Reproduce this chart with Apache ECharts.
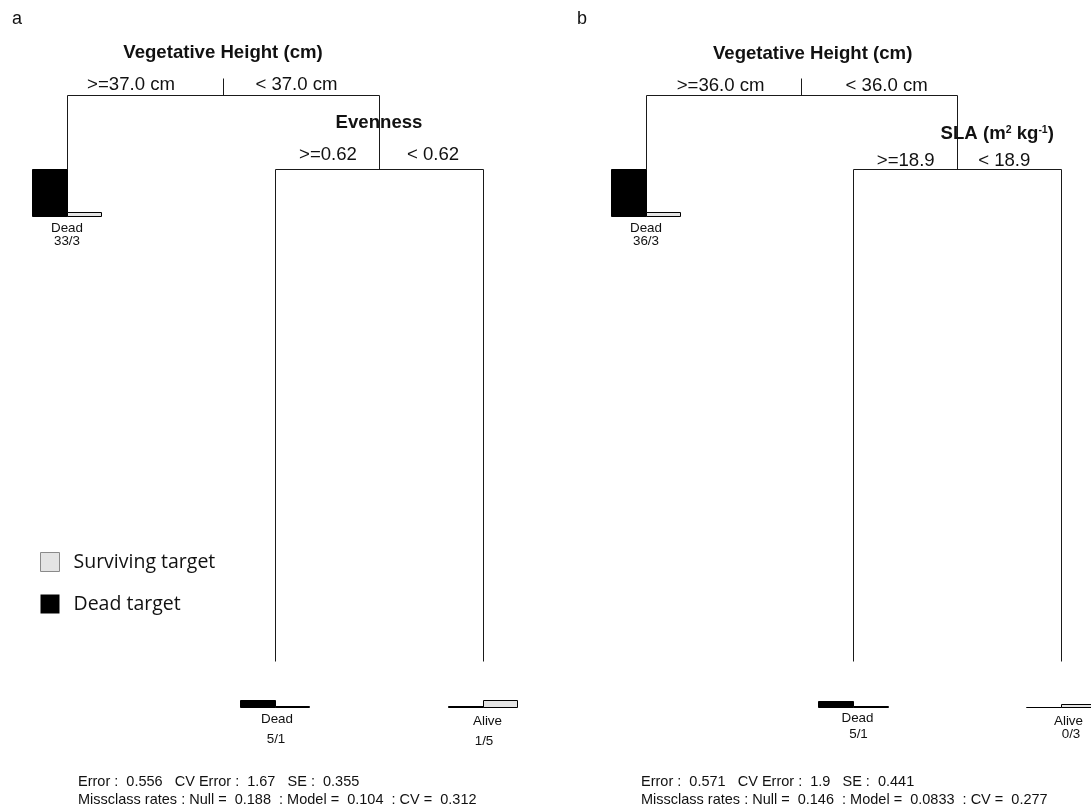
<!DOCTYPE html>
<html>
<head>
<meta charset="utf-8">
<script src="https://cdn.jsdelivr.net/npm/echarts@6/dist/echarts.min.js"></script>
<style>
  html, body { margin: 0; padding: 0; background: #fff; }
  #chart { width: 1091px; height: 809px; }
</style>
</head>
<body>
<div id="chart"></div>
<script>
// ---- Tree a: survival of targets split on vegetative height, then evenness ----
const splitVarsA   = ['Vegetative Height (cm)', 'Evenness'];
const splitLeftA   = ['>=37.0 cm', '>=0.62'];
const splitRightA  = ['< 37.0 cm', '< 0.62'];
const splitHeightA = [1.0, 0.868];          // node height (relative deviance)
const childrenA    = [['L0', 'S1'], ['L1', 'L2']];
const leafClassA   = ['Dead', 'Dead', 'Alive'];
const leafDeadA    = [33, 5, 1];
const leafAliveA   = [3, 1, 5];
const leafHeightA  = [0.868, 0, 0];
const statsA       = ['0.556', '1.67', '0.355', '0.188', '0.104', '0.312'];

// ---- Tree b: survival of targets split on vegetative height, then SLA ----
const splitVarsB   = ['Vegetative Height (cm)', 'SLA (m{sup|2} kg{sup|-1})'];
const splitLeftB   = ['>=36.0 cm', '>=18.9'];
const splitRightB  = ['< 36.0 cm', '< 18.9'];
const splitHeightB = [1.0, 0.868];
const childrenB    = [['L0', 'S1'], ['L1', 'L2']];
const leafClassB   = ['Dead', 'Dead', 'Alive'];
const leafDeadB    = [36, 5, 0];
const leafAliveB   = [3, 1, 3];
const leafHeightB  = [0.868, 0, 0];
const statsB       = ['0.571', '1.9', '0.441', '0.146', '0.0833', '0.277'];

const panelLetters = ['a', 'b'];
const legendNames  = ['Surviving target', 'Dead target'];

// ---- drawing constants ----
const FONT = '"Liberation Sans", Arial, sans-serif';
const LINE_COLOR = '#1a1a1a';
const TEXT_COLOR = '#111';
const ALIVE_FILL = '#e4e4e4';
const DEAD_FILL = '#000';
const LEAF_BAR_SPAN = 0.083;   // y units used by the tallest leaf bar
const BAR_W = 1 / 6;           // x units per bar
const ROOT_STUB = 17;          // px, tick above the root split

// label placement (px offsets from the node / leaf baseline)
const splitTextA = [
  { name: [0, -42], left: [-92, -10], right: [73.5, -10] },
  { name: [0, -47], left: [-51, -15], right: [54, -15] }
];
const splitTextB = [
  { name: [11, -41], left: [-81, -9], right: [85, -9] },
  { name: [40, -36], left: [-51.5, -9], right: [47, -9] }
];
const leafTextA = [
  { cls: [0, 12], n: [0, 25] }, { cls: [2, 11], n: [1, 31] }, { cls: [4.5, 13], n: [1, 33] }
];
const leafTextB = [
  { cls: [0, 12], n: [0, 25] }, { cls: [4, 10], n: [5, 26] }, { cls: [7.5, 13], n: [10, 26] }
];

const crisp = v => Math.round(v - 0.5) + 0.5;

function layoutTree(children, splitHeight, leafHeight) {
  const nodes = [];
  function place(id) {
    const kind = id[0], idx = +id.slice(1);
    let node;
    if (kind === 'L') {
      node = { kind, idx, x: idx + 1, y: leafHeight[idx] };
    } else {
      const ln = place(children[idx][0]);
      const rn = place(children[idx][1]);
      node = { kind, idx, x: (ln.x + rn.x) / 2, y: splitHeight[idx], leftX: ln.x, rightX: rn.x };
      ln.parentY = node.y;
      rn.parentY = node.y;
    }
    nodes.push(node);
    return node;
  }
  place('S0');
  return nodes;
}

function txt(x, y, text, size, bold, extra) {
  return {
    type: 'text',
    style: Object.assign({
      x, y, text,
      fontFamily: FONT, fontSize: size, fontWeight: bold ? 'bold' : 'normal',
      fill: TEXT_COLOR, align: 'center', verticalAlign: 'middle'
    }, extra || {})
  };
}

function panelSeries(cfg, gi) {
  const nodes = layoutTree(cfg.children, cfg.splitHeight, cfg.leafHeight);
  const maxCount = Math.max(...cfg.dead, ...cfg.alive);

  const tree = {
    type: 'custom', name: 'tree ' + panelLetters[gi], xAxisIndex: gi, yAxisIndex: gi,
    silent: true, z: 2,
    data: nodes.map(n => [n.x, n.y]),
    renderItem(params, api) {
      const n = nodes[params.dataIndex];
      const p = api.coord([n.x, n.y]);
      const X = crisp(p[0]), Y = crisp(p[1]);
      const els = [];
      const line = (x1, y1, x2, y2) => els.push({
        type: 'line', shape: { x1, y1, x2, y2 },
        style: { stroke: LINE_COLOR, lineWidth: 1 }
      });
      if (n.parentY !== undefined) {
        line(X, crisp(api.coord([n.x, n.parentY])[1]), X, Y);
      } else {
        line(X, Y - ROOT_STUB, X, Y);
      }
      if (n.kind === 'S') {
        const l = api.coord([n.leftX, n.y]);
        const r = api.coord([n.rightX, n.y]);
        line(crisp(l[0]), Y, crisp(r[0]), Y);
        const t = cfg.splitText[n.idx];
        els.push(txt(p[0] + t.name[0], p[1] + t.name[1], cfg.splitVars[n.idx], 18.6, true, {
          rich: {
            sup: { fontFamily: FONT, fontSize: 10.5, fontWeight: 'bold', fill: TEXT_COLOR, verticalAlign: 'top' }
          }
        }));
        els.push(txt(p[0] + t.left[0], p[1] + t.left[1], cfg.splitLeft[n.idx], 18.6, false));
        els.push(txt(p[0] + t.right[0], p[1] + t.right[1], cfg.splitRight[n.idx], 18.6, false));
      } else {
        const b = api.coord([n.x, n.y - LEAF_BAR_SPAN]);
        const t = cfg.leafText[n.idx];
        els.push(txt(b[0] + t.cls[0], b[1] + t.cls[1], cfg.leafClass[n.idx], 13.4, false));
        els.push(txt(b[0] + t.n[0], b[1] + t.n[1], cfg.dead[n.idx] + '/' + cfg.alive[n.idx], 13.4, false));
      }
      return { type: 'group', children: els };
    }
  };

  const bars = (name, counts, side, fill) => ({
    type: 'custom', name, xAxisIndex: gi, yAxisIndex: gi, z: 3, silent: true,
    itemStyle: { color: fill },
    data: counts.map((c, i) => [i + 1, cfg.leafHeight[i], c]),
    renderItem(params, api) {
      const x = api.value(0), top = api.value(1), c = api.value(2);
      const base = top - LEAF_BAR_SPAN;
      const p0 = api.coord([side < 0 ? x - BAR_W : x, base]);
      const p1 = api.coord([side < 0 ? x : x + BAR_W, base + LEAF_BAR_SPAN * c / maxCount]);
      const x0 = crisp(p0[0]), x1 = crisp(p1[0]);
      const yb = crisp(p0[1]), yt = crisp(p1[1]);
      return {
        type: 'rect',
        shape: { x: x0, y: yt, width: x1 - x0, height: yb - yt },
        style: { fill, stroke: '#000', lineWidth: 1 }
      };
    }
  });

  return [
    tree,
    bars(legendNames[1], cfg.dead, -1, DEAD_FILL),
    bars(legendNames[0], cfg.alive, 1, ALIVE_FILL)
  ];
}

const panels = [
  { children: childrenA, splitHeight: splitHeightA, leafHeight: leafHeightA, splitVars: splitVarsA,
    splitLeft: splitLeftA, splitRight: splitRightA, leafClass: leafClassA, dead: leafDeadA,
    alive: leafAliveA, splitText: splitTextA, leafText: leafTextA },
  { children: childrenB, splitHeight: splitHeightB, leafHeight: leafHeightB, splitVars: splitVarsB,
    splitLeft: splitLeftB, splitRight: splitRightB, leafClass: leafClassB, dead: leafDeadB,
    alive: leafAliveB, splitText: splitTextB, leafText: leafTextB }
];

function statLines(s) {
  return [
    'Error :  ' + s[0] + '   CV Error :  ' + s[1] + '   SE :  ' + s[2],
    'Missclass rates : Null =  ' + s[3] + '  : Model =  ' + s[4] + '  : CV =  ' + s[5]
  ];
}

function statGraphic(s, left) {
  return statLines(s).map((t, i) => ({
    type: 'text', x: left, y: 782 + i * 18, silent: true,
    style: { text: t, fontFamily: FONT, fontSize: 14.5, fill: TEXT_COLOR, align: 'left', verticalAlign: 'middle' }
  }));
}

const chart = echarts.init(document.getElementById('chart'), null, { renderer: 'canvas' });

chart.setOption({
  backgroundColor: '#fff',
  animation: false,
  grid: [
    { left: 67, top: 95, width: 416, height: 566 },
    { left: 646, top: 95, width: 415, height: 566 }
  ],
  xAxis: [0, 1].map(i => ({ gridIndex: i, type: 'value', min: 1, max: 3, show: false })),
  yAxis: [0, 1].map(i => ({ gridIndex: i, type: 'value', min: 0, max: 1, show: false })),
  legend: {
    orient: 'vertical', left: 40, top: 552, padding: 0,
    itemWidth: 19, itemHeight: 19, itemGap: 22,
    selectedMode: false,
    icon: 'rect',
    data: [
      { name: legendNames[0], itemStyle: { color: ALIVE_FILL, borderColor: '#8a8a8a', borderWidth: 1 } },
      { name: legendNames[1], itemStyle: { color: DEAD_FILL, borderWidth: 0 } }
    ],
    textStyle: { fontFamily: '"Open Sans", sans-serif', fontSize: 19.5, lineHeight: 19, color: '#111', padding: [0, 0, 0, 9] }
  },
  graphic: [
    { type: 'text', x: 12, y: 19, silent: true,
      style: { text: panelLetters[0], fontFamily: FONT, fontSize: 18, fill: TEXT_COLOR, align: 'left', verticalAlign: 'middle' } },
    { type: 'text', x: 577, y: 19, silent: true,
      style: { text: panelLetters[1], fontFamily: FONT, fontSize: 18, fill: TEXT_COLOR, align: 'left', verticalAlign: 'middle' } }
  ].concat(statGraphic(statsA, 78), statGraphic(statsB, 641)),
  series: panelSeries(panels[0], 0).concat(panelSeries(panels[1], 1))
});
</script>
</body>
</html>
